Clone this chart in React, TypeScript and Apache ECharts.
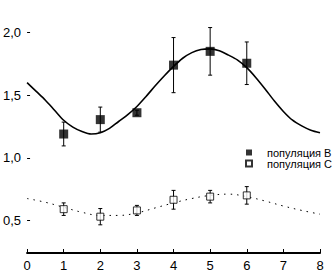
import React, { useEffect, useRef } from "react";
import * as echarts from "echarts";

const xTicks = [0, 1, 2, 3, 4, 5, 6, 7, 8];
const yTickValues = [0.5, 1.0, 1.5, 2.0];

const pointX = [1, 2, 3, 4, 5, 6];
const popB = [1.19, 1.305, 1.36, 1.74, 1.85, 1.755];
const popBErr = [0.095, 0.1, 0.02, 0.22, 0.19, 0.17];
const popC = [0.59, 0.53, 0.58, 0.665, 0.69, 0.70];
const popCErr = [0.05, 0.065, 0.04, 0.075, 0.05, 0.07];

const curveBX = [0, 0.25, 0.5, 0.75, 1, 1.25, 1.5, 1.75, 2, 2.25, 2.5, 2.75, 3, 3.25, 3.5, 3.75, 4, 4.25, 4.5, 4.75, 5, 5.25, 5.5, 5.75, 6, 6.25, 6.5, 6.75, 7, 7.25, 7.5, 7.75, 8];
const curveB = [1.6, 1.53, 1.46, 1.38, 1.3, 1.245, 1.21, 1.19, 1.2, 1.235, 1.29, 1.345, 1.41, 1.49, 1.575, 1.655, 1.73, 1.795, 1.84, 1.865, 1.87, 1.855, 1.82, 1.78, 1.72, 1.64, 1.55, 1.455, 1.37, 1.3, 1.255, 1.22, 1.2];
const curveCX = [0, 0.5, 1, 1.5, 2, 2.5, 3, 3.5, 4, 4.5, 5, 5.5, 6, 6.5, 7, 7.5, 8];
const curveC = [0.675, 0.645, 0.605, 0.565, 0.54, 0.54, 0.56, 0.6, 0.64, 0.675, 0.7, 0.71, 0.69, 0.655, 0.615, 0.58, 0.55];

const nameB = "популяция B";
const nameC = "популяция C";

const FONT = "'Liberation Sans', Arial, sans-serif";

function errorSeries(vals: number[], errs: number[]) {
  return {
    type: "custom",
    silent: true,
    z: 1,
    data: pointX.map((x, i) => [x, vals[i] - errs[i], vals[i] + errs[i]]),
    encode: { x: 0, y: [1, 2] },
    renderItem: (params: any, api: any) => {
      const x = api.value(0);
      const lo = api.coord([x, api.value(1)]);
      const hi = api.coord([x, api.value(2)]);
      const w = 2;
      const style = { stroke: "#000", lineWidth: 1 };
      return {
        type: "group",
        children: [
          { type: "line", shape: { x1: lo[0], y1: lo[1], x2: hi[0], y2: hi[1] }, style },
          { type: "line", shape: { x1: lo[0] - w, y1: lo[1], x2: lo[0] + w, y2: lo[1] }, style },
          { type: "line", shape: { x1: hi[0] - w, y1: hi[1], x2: hi[0] + w, y2: hi[1] }, style },
        ],
      };
    },
  };
}

export default function App() {
  const ref = useRef<HTMLDivElement>(null);
  useEffect(() => {
    if (!ref.current) return;
    const chart = echarts.init(ref.current, null, { renderer: "svg" });
    chart.setOption({
      animation: false,
      backgroundColor: "#fff",
      textStyle: { fontFamily: FONT },
      grid: { left: 23, right: 12, top: 0, bottom: 17, containLabel: false },
      legend: {
        data: [nameB, nameC],
        orient: "vertical",
        left: 245,
        top: 147,
        icon: "rect",
        itemWidth: 6,
        itemHeight: 6,
        itemGap: 0,
        padding: 0,
        textStyle: { fontSize: 11, color: "#000", fontFamily: FONT, padding: [0, 0, 0, 10], lineHeight: 11 },
      },
      xAxis: {
        type: "value",
        min: 0,
        max: 8,
        interval: 1,
        axisLine: { show: true, lineStyle: { color: "#000", width: 2 } },
        axisTick: { show: true, inside: true, length: 4, lineStyle: { color: "#000" } },
        axisLabel: { color: "#000", fontSize: 13, margin: 6, fontFamily: FONT },
        splitLine: { show: false },
        data: xTicks,
      },
      yAxis: {
        type: "value",
        min: 0.24,
        max: 2.26,
        axisLine: { show: false },
        axisTick: { show: true, inside: true, length: 3, customValues: yTickValues, lineStyle: { color: "#000" } },
        axisLabel: {
          color: "#000",
          fontSize: 13,
          margin: 6,
          fontFamily: FONT,
          customValues: yTickValues,
          formatter: (v: number) => v.toFixed(1).replace(".", ","),
        },
        splitLine: { show: false },
      },
      series: [
        {
          type: "line",
          data: curveBX.map((x, i) => [x, curveB[i]]),
          smooth: 0.3,
          showSymbol: false,
          silent: true,
          lineStyle: { color: "#000", width: 1.6 },
          z: 1,
        },
        {
          type: "line",
          data: curveCX.map((x, i) => [x, curveC[i]]),
          smooth: 0.4,
          showSymbol: false,
          silent: true,
          lineStyle: { color: "#000", width: 1, type: [1.5, 5] },
          z: 1,
        },
        errorSeries(popB, popBErr),
        errorSeries(popC, popCErr),
        {
          name: nameB,
          type: "scatter",
          symbol: "rect",
          symbolSize: 9,
          data: pointX.map((x, i) => [x, popB[i]]),
          itemStyle: { color: "#000" },
          z: 3,
        },
        {
          name: nameC,
          type: "scatter",
          symbol: "rect",
          symbolSize: 7,
          data: pointX.map((x, i) => [x, popC[i]]),
          itemStyle: { color: "#fff", borderColor: "#000", borderWidth: 1 },
          z: 3,
        },
      ],
    });
    return () => chart.dispose();
  }, []);
  return <div ref={ref} style={{ position: "absolute", left: 0, top: 0, width: 332, height: 272 }} />;
}
